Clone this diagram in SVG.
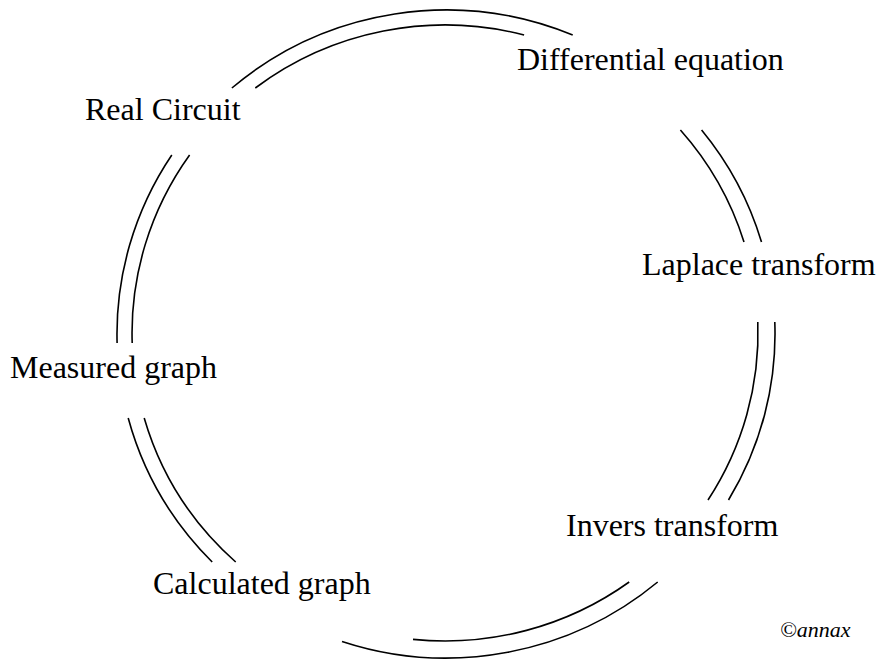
<svg xmlns="http://www.w3.org/2000/svg" width="877" height="660" viewBox="0 0 877 660">
<style>
.arc{fill:none;stroke:#000;stroke-width:1.6}
.lbl{font-family:"Liberation Serif","Times New Roman",serif;font-size:32px;fill:#000}
.copy{font-family:"Liberation Serif","Times New Roman",serif;font-size:22px;font-style:italic;fill:#000}
</style>
<rect width="877" height="660" fill="#fff"/>
<g id="connectors">
<path class="arc" d="M231.9,88 A329,324 0 0 1 572.7,35"/>
<path class="arc" d="M255.3,88 A313,308 0 0 1 524.1,35"/>
<path class="arc" d="M701.6,130 A329,324 0 0 1 761.5,242"/>
<path class="arc" d="M680.4,130 A313,308 0 0 1 744,242"/>
<path class="arc" d="M774.8,322 A329,324 0 0 1 728.5,500"/>
<path class="arc" d="M757.8,322 A313,308 0 0 1 708,500"/>
<path class="arc" d="M657.7,582 A329,324 0 0 1 342,641.4"/>
<path class="arc" d="M629.2,582 A313,308 0 0 1 413,639.4"/>
<path class="arc" d="M212.2,562 A329,324 0 0 1 128.2,418"/>
<path class="arc" d="M235.7,562 A313,308 0 0 1 144.2,418"/>
<path class="arc" d="M117.1,343 A329,324 0 0 1 171.8,155"/>
<path class="arc" d="M132.2,343 A313,308 0 0 1 189.6,155"/>
</g>
<g id="differential"><text class="lbl" x="517" y="70">Differential equation</text></g>
<g id="real"><text class="lbl" x="85" y="120">Real Circuit</text></g>
<g id="laplace"><text class="lbl" x="642" y="275">Laplace transform</text></g>
<g id="measured"><text class="lbl" x="10" y="378">Measured graph</text></g>
<g id="invers"><text class="lbl" x="566" y="536">Invers transform</text></g>
<g id="calculated"><text class="lbl" x="153" y="594">Calculated graph</text></g>
<g id="credit"><text class="copy" x="780" y="637">©annax</text></g>
</svg>
